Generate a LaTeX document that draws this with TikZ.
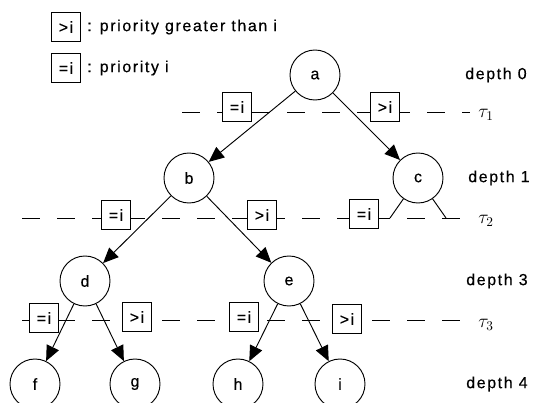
\documentclass[tikz,border=0pt]{standalone}
\usepackage{fontspec}
\setmainfont{Liberation Sans}[LetterSpace=10,FakeBold=0.4]
\usetikzlibrary{arrows.meta}
\begin{document}
\begin{tikzpicture}[x=0.75pt,y=-0.75pt,
  font=\fontsize{12}{14}\selectfont,
  vertex/.style={circle,draw,line width=0.7pt,minimum size=37.5pt,inner sep=0pt},
  prio/.style={draw,fill=white,line width=0.7pt,minimum width=22pt,minimum height=22pt,inner sep=1pt},
  tauline/.style={line width=0.7pt,dash pattern=on 13.5pt off 12.75pt},
  arc/.style={line width=0.7pt,-{Triangle[length=11.5pt,width=10pt]}},
  plainarc/.style={line width=0.7pt},
  taulbl/.style={font=\fontsize{14.5}{16}\selectfont,inner sep=0pt},
  lbl/.style={anchor=west,inner sep=0pt}]
\useasboundingbox (0,0) rectangle (535,403);

% legend
\node[prio] (L1) at (66,27) {>i};
\node[lbl] (L1t) at (87,27) {: priority greater than i};
\node[prio] (L2) at (66,68) {=i};
\node[lbl] (L2t) at (87,68) {: priority i};

% threshold lines
\coordinate (t1s) at (182,112); \coordinate (t1e) at (470,112);
\coordinate (t2s) at (22,218);  \coordinate (t2e) at (467,218);
\coordinate (t3s) at (22,320);  \coordinate (t3e) at (467,320);
\draw[tauline] (t1s) -- (t1e);
\draw[tauline] (t2s) -- (t2e);
\draw[tauline] (t3s) -- (t3e);
\node[taulbl] (tau1) at (486,115) {$\tau_1$};
\node[taulbl] (tau2) at (486,221) {$\tau_2$};
\node[taulbl] (tau3) at (486,325) {$\tau_3$};

% depth labels
\node[lbl] (d0) at (465,75) {depth 0};
\node[lbl] (d1) at (468,178) {depth 1};
\node[lbl] (d3) at (466,281) {depth 3};
\node[lbl] (d4) at (466,384) {depth 4};

% tree nodes
\node[vertex] (a) at (315,75) {a};
\node[vertex] (b) at (189,178) {b};
\node[vertex] (c) at (418,178) {c};
\node[vertex] (d) at (85,281) {d};
\node[vertex] (e) at (289,281) {e};
\node[vertex] (f) at (35,384) {f};
\node[vertex] (g) at (135,384) {g};
\node[vertex] (h) at (238,384) {h};
\node[vertex] (i) at (340,384) {i};

% edges
\draw[arc] (a) -- (b);
\draw[arc] (a) -- (c);
\draw[arc] (b) -- (d);
\draw[arc] (b) -- (e);
\draw[arc] (d) -- (f);
\draw[arc] (d) -- (g);
\draw[arc] (e) -- (h);
\draw[arc] (e) -- (i);
\coordinate (cl) at (390,218);
\coordinate (cr) at (446,218);
\draw[plainarc] (c) -- (cl);
\draw[plainarc] (c) -- (cr);

% priority boxes
\node[prio] (p1a) at (237,107) {=i};
\node[prio] (p1b) at (385,107) {>i};
\node[prio] (p2a) at (116,215) {=i};
\node[prio] (p2b) at (262,215) {>i};
\node[prio] (p2c) at (364,214) {=i};
\node[prio] (p3a) at (44,318) {=i};
\node[prio] (p3b) at (137,317) {>i};
\node[prio] (p3c) at (244,317) {=i};
\node[prio] (p3d) at (347,319) {>i};
\end{tikzpicture}
\end{document}
